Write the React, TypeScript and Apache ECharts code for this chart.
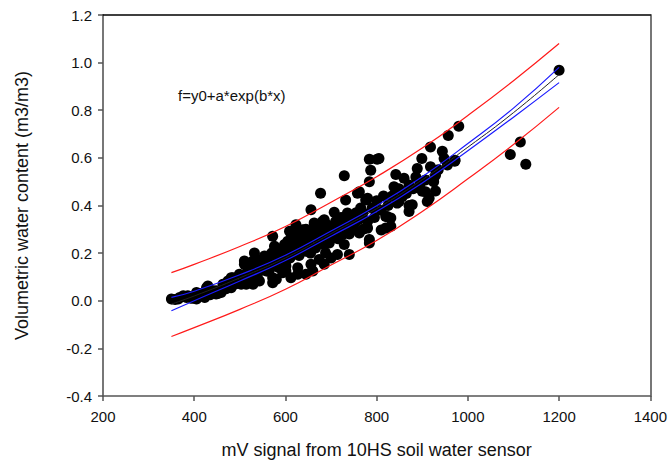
import React, { useEffect, useRef } from "react";
import * as echarts from "echarts";

// Fitted curve samples (mV, m3/m3)
const mvSamples = [350, 400, 500, 600, 700, 800, 900, 1000, 1100, 1200];
const fitCenter = [-0.014, 0.02, 0.096, 0.18, 0.282, 0.387, 0.508, 0.645, 0.79, 0.95];
const confUpper = [0.014, 0.04, 0.109, 0.191, 0.293, 0.399, 0.521, 0.66, 0.809, 0.98];
const confLower = [-0.042, 0.0, 0.083, 0.169, 0.271, 0.375, 0.495, 0.63, 0.771, 0.916];
const predUpper = [0.118, 0.153, 0.228, 0.312, 0.414, 0.521, 0.641, 0.778, 0.924, 1.08];
const predLower = [-0.15, -0.113, -0.036, 0.048, 0.15, 0.253, 0.375, 0.512, 0.656, 0.812];

// Observations (mV signal, volumetric water content)
const observations: [number, number][] = [
  [350, 0.007], [358, 0.005], [365, 0.007], [368, 0.014], [376, 0.021], [383, 0.014], [386, 0.021],
  [395, 0.01], [405, 0.035], [405, 0.007], [414, 0.03], [423, 0.014], [427, 0.055], [430, 0.062],
  [435, 0.025], [441, 0.042], [448, 0.042], [448, 0.028], [452, 0.03], [459, 0.035], [463, 0.069],
  [466, 0.069], [470, 0.05], [474, 0.083], [481, 0.097], [481, 0.055], [485, 0.097], [490, 0.07],
  [499, 0.111], [503, 0.069], [508, 0.1], [510, 0.167], [510, 0.153], [514, 0.16], [514, 0.069],
  [516, 0.12], [518, 0.153], [521, 0.09], [521, 0.104], [525, 0.145], [529, 0.069], [529, 0.167],
  [532, 0.125], [532, 0.2], [532, 0.097], [538, 0.1], [540, 0.15], [543, 0.125], [543, 0.083],
  [545, 0.17], [550, 0.14], [554, 0.1875], [555, 0.16], [558, 0.125], [560, 0.15], [561, 0.125],
  [565, 0.18], [565, 0.13], [570, 0.2], [572, 0.271], [572, 0.076], [572, 0.097], [575, 0.16],
  [576, 0.229], [580, 0.09], [580, 0.21], [583, 0.18], [585, 0.14], [590, 0.2], [590, 0.17],
  [594, 0.118], [595, 0.22], [598, 0.236], [600, 0.16], [601, 0.146], [601, 0.125], [605, 0.21],
  [605, 0.25], [609, 0.292], [610, 0.18], [612, 0.097], [615, 0.23], [616, 0.292], [616, 0.194],
  [620, 0.2], [620, 0.27], [623, 0.319], [625, 0.22], [627, 0.25], [627, 0.139], [627, 0.111],
  [630, 0.19], [632, 0.28], [635, 0.24], [638, 0.298], [640, 0.26], [645, 0.208], [645, 0.111],
  [645, 0.3], [650, 0.24], [650, 0.27], [655, 0.2], [656, 0.382], [656, 0.153], [660, 0.125],
  [660, 0.29], [663, 0.326], [665, 0.31], [666, 0.222], [670, 0.26], [670, 0.3], [674, 0.173],
  [675, 0.28], [677, 0.451], [678, 0.264], [680, 0.25], [681, 0.333], [685, 0.236], [685, 0.34],
  [685, 0.153], [688, 0.29], [688, 0.201], [690, 0.32], [695, 0.3], [696, 0.243], [700, 0.18],
  [700, 0.27], [705, 0.31], [707, 0.372], [710, 0.333], [710, 0.29], [714, 0.194], [715, 0.26],
  [720, 0.32], [722, 0.35], [725, 0.278], [729, 0.525], [729, 0.236], [730, 0.3], [732, 0.423],
  [735, 0.33], [736, 0.368], [740, 0.194], [740, 0.28], [746, 0.336], [746, 0.298], [750, 0.32],
  [755, 0.37], [758, 0.451], [760, 0.34], [762, 0.285], [762, 0.458], [765, 0.389], [770, 0.37],
  [770, 0.3], [776, 0.423], [780, 0.333], [780, 0.305], [780, 0.43], [784, 0.594], [784, 0.5],
  [784, 0.257], [784, 0.243], [787, 0.548], [790, 0.39], [795, 0.35], [800, 0.42], [801, 0.594],
  [805, 0.597], [810, 0.38], [810, 0.297], [815, 0.44], [820, 0.305], [820, 0.354], [823, 0.354],
  [825, 0.4], [831, 0.347], [831, 0.3125], [834, 0.44], [838, 0.479], [842, 0.53], [845, 0.41],
  [849, 0.417], [849, 0.47], [856, 0.4375], [860, 0.514], [865, 0.45], [871, 0.486], [871, 0.375],
  [871, 0.4], [878, 0.403], [880, 0.47], [886, 0.52], [889, 0.555], [895, 0.49], [899, 0.597],
  [900, 0.46], [907, 0.507], [907, 0.458], [911, 0.417], [915, 0.43], [918, 0.646], [918, 0.5625],
  [925, 0.5], [929, 0.527], [929, 0.461], [935, 0.55], [944, 0.628], [948, 0.597], [955, 0.57],
  [957, 0.694], [971, 0.586], [972, 0.59], [980, 0.733], [1093, 0.614], [1115, 0.667],
  [1127, 0.573], [1200, 0.968],
];

const xTickMin = 200;
const xTickMax = 1400;
const yTickMin = -0.4;
const yTickMax = 1.2;

const zip = (xs: number[], ys: number[]) => xs.map((x, i) => [x, ys[i]]);

export default function App() {
  const ref = useRef<HTMLDivElement>(null);
  useEffect(() => {
    document.body.style.margin = "0";
    if (!ref.current) return;
    const chart = echarts.init(ref.current, null, { renderer: "svg" });
    const font = "Liberation Sans, Arial, sans-serif";
    const lineSeries = (name: string, ys: number[], color: string, width: number) => ({
      name,
      type: "line",
      data: zip(mvSamples, ys),
      smooth: 0.5,
      showSymbol: false,
      symbol: "none",
      lineStyle: { color, width },
      z: 5,
    });
    chart.setOption({
      animation: false,
      backgroundColor: "#ffffff",
      grid: { left: 103, right: 18, top: 15, bottom: 65, containLabel: false },
      xAxis: [
        {
          type: "value",
          min: xTickMin,
          max: xTickMax,
          interval: 200,
          name: "mV signal from 10HS soil water sensor",
          nameLocation: "middle",
          nameGap: 45,
          nameTextStyle: { fontFamily: font, fontSize: 18, color: "#111" },
          axisLine: { show: true, onZero: false, lineStyle: { color: "#555", width: 1.5 } },
          axisTick: { show: true, inside: false, length: 5, lineStyle: { color: "#555", width: 1.5 } },
          axisLabel: {
            fontFamily: font,
            fontSize: 15,
            color: "#111",
            margin: 13,
            formatter: (v: number) => String(v),
          },
          splitLine: { show: false },
        },
        {
          type: "value",
          position: "top",
          min: xTickMin,
          max: xTickMax,
          axisLine: { show: true, onZero: false, lineStyle: { color: "#000", width: 1.5 } },
          axisTick: { show: false },
          axisLabel: { show: false },
          splitLine: { show: false },
        },
      ],
      yAxis: [
        {
          type: "value",
          min: yTickMin,
          max: yTickMax,
          interval: 0.2,
          name: "Volumetric water content (m3/m3)",
          nameLocation: "middle",
          nameGap: 72,
          nameTextStyle: { fontFamily: font, fontSize: 18, color: "#111" },
          axisLine: { show: true, onZero: false, lineStyle: { color: "#777", width: 2 } },
          axisTick: { show: true, inside: false, length: 5, lineStyle: { color: "#555", width: 1.5 } },
          axisLabel: {
            fontFamily: font,
            fontSize: 15,
            color: "#111",
            margin: 11,
            formatter: (v: number) => v.toFixed(1),
          },
          splitLine: { show: false },
        },
        {
          type: "value",
          position: "right",
          min: yTickMin,
          max: yTickMax,
          axisLine: { show: true, onZero: false, lineStyle: { color: "#777", width: 2 } },
          axisTick: { show: false },
          axisLabel: { show: false },
          splitLine: { show: false },
        },
      ],
      series: [
        {
          name: "Observations",
          type: "scatter",
          data: observations,
          symbol: "circle",
          symbolSize: 11,
          itemStyle: { color: "#000", opacity: 1 },
          z: 2,
        },
        lineSeries("Prediction upper", predUpper, "#ff1a1a", 1.2),
        lineSeries("Prediction lower", predLower, "#ff1a1a", 1.2),
        lineSeries("Fit", fitCenter, "#222222", 1),
        lineSeries("Confidence upper", confUpper, "#1a1aff", 1.2),
        lineSeries("Confidence lower", confLower, "#1a1aff", 1.2),
      ],
      graphic: [
        {
          type: "text",
          left: 178,
          top: 88,
          style: {
            text: "f=y0+a*exp(b*x)",
            fontFamily: font,
            fontSize: 15,
            fill: "#111",
          },
        },
      ],
    });
    return () => chart.dispose();
  }, []);
  return <div ref={ref} style={{ width: 670, height: 464 }} />;
}
